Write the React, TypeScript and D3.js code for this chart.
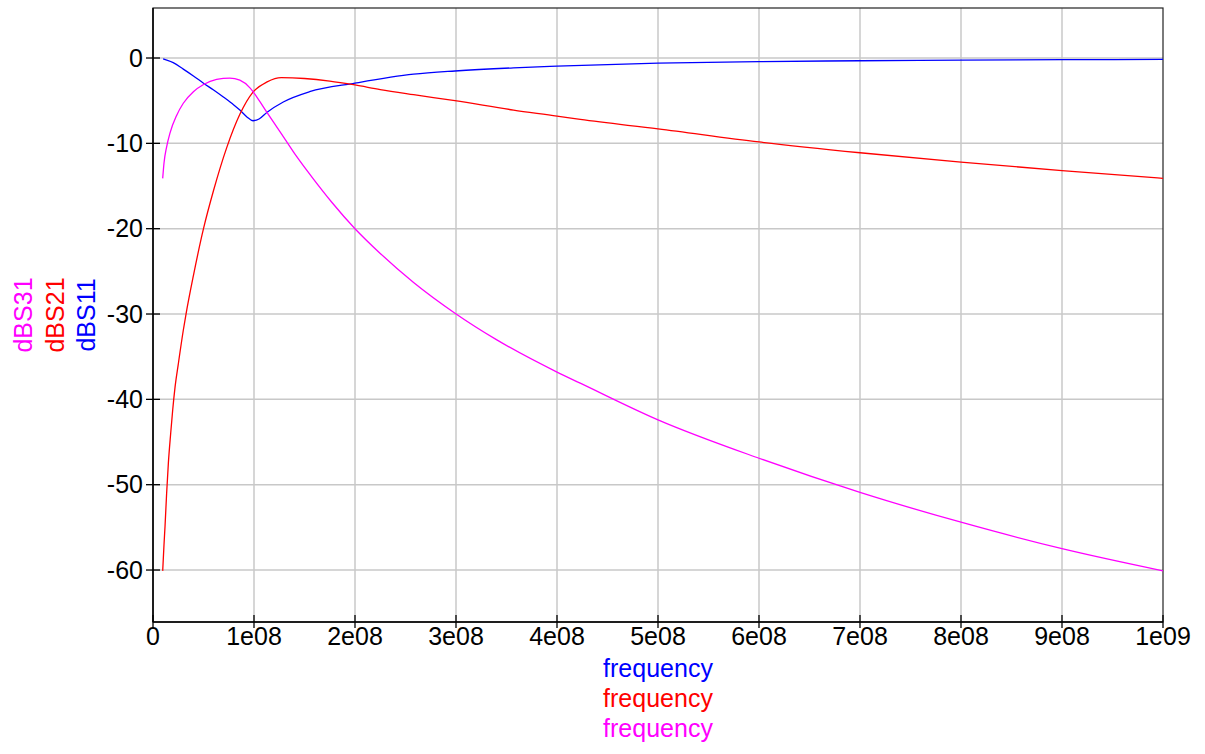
import React from "react";
import * as d3 from "d3";

// Frequency sweep results (frequency in Hz, magnitude in dB)
const s11Freq = [1e7, 2e7, 3e7, 4e7, 5e7, 6e7, 7e7, 8e7, 8.6e7, 9.3e7, 9.9e7, 1.05e8, 1.13e8, 1.29e8, 1.55e8, 2.0e8, 2.58e8, 2.99e8, 3.57e8, 4.0e8, 5e8, 6e8, 7e8, 8e8, 9e8, 1e9];
const s11dB = [-0.1, -0.55, -1.3, -2.1, -2.95, -3.75, -4.6, -5.5, -6.1, -6.9, -7.35, -7.15, -6.35, -5.15, -3.95, -2.95, -1.9, -1.52, -1.15, -0.95, -0.6, -0.42, -0.32, -0.25, -0.2, -0.16];

const s21Freq = [0.96e7, 1.09e7, 1.19e7, 1.35e7, 1.52e7, 1.75e7, 1.95e7, 2.18e7, 2.5e7, 3.0e7, 3.27e7, 4.0e7, 5.0e7, 6.0e7, 7.3e7, 8.6e7, 9.9e7, 1.13e8, 1.27e8, 1.5e8, 1.75e8, 2.0e8, 2.25e8, 2.58e8, 2.99e8, 3.57e8, 4.0e8, 4.23e8, 5e8, 6e8, 7e8, 8e8, 9e8, 1e9];
const s21dB = [-60.1, -57.0, -54.9, -51.0, -47.5, -44.0, -41.25, -38.6, -35.9, -31.9, -30.0, -25.5, -20.0, -15.5, -10.5, -6.6, -4.0, -2.8, -2.3, -2.4, -2.7, -3.16, -3.7, -4.3, -5.0, -6.1, -6.8, -7.2, -8.3, -9.84, -11.1, -12.2, -13.2, -14.1];

const s31Freq = [0.96e7, 1.09e7, 1.35e7, 1.68e7, 2.35e7, 3.0e7, 4.0e7, 5.0e7, 6.3e7, 7.6e7, 8.6e7, 9.6e7, 1.03e8, 1.13e8, 1.29e8, 1.42e8, 1.57e8, 1.77e8, 2.0e8, 2.25e8, 2.58e8, 2.99e8, 3.4e8, 4.0e8, 4.23e8, 5e8, 6e8, 7e8, 8e8, 9e8, 1e9];
const s31dB = [-14.1, -12.3, -10.4, -8.8, -6.7, -5.3, -3.95, -3.1, -2.5, -2.35, -2.6, -3.5, -4.6, -6.4, -9.2, -11.5, -13.9, -16.9, -20.0, -22.9, -26.3, -29.9, -33.0, -36.8, -38.1, -42.4, -46.9, -50.9, -54.4, -57.5, -60.1];

const xTicks = [0, 1e8, 2e8, 3e8, 4e8, 5e8, 6e8, 7e8, 8e8, 9e8, 1e9];
const xTickLabels = ["0", "1e08", "2e08", "3e08", "4e08", "5e08", "6e08", "7e08", "8e08", "9e08", "1e09"];
const yTicks = [0, -10, -20, -30, -40, -50, -60];

const yLabels = [
  { text: "dBS31", color: "#ff00ff" },
  { text: "dBS21", color: "#ff0000" },
  { text: "dBS11", color: "#0000ff" },
];
const xLabels = [
  { text: "frequency", color: "#0000ff" },
  { text: "frequency", color: "#ff0000" },
  { text: "frequency", color: "#ff00ff" },
];

const W = 1205;
const H = 754;
const left = 153;
const right = 1163;
const top = 8;
const bottom = 622;

export default function App() {
  const x = d3.scaleLinear().domain([0, 1e9]).range([left, right]);
  const y = d3.scaleLinear().domain([-66.09, 5.86]).range([bottom, top]);

  const line = (fs: number[], vs: number[]) =>
    d3
      .line<number>()
      .x((_, i) => x(fs[i]))
      .y((v) => y(v))
      .curve(d3.curveMonotoneX)(vs) || "";

  const series = [
    { f: s11Freq, v: s11dB, color: "#0000ff" },
    { f: s21Freq, v: s21dB, color: "#ff0000" },
    { f: s31Freq, v: s31dB, color: "#ff00ff" },
  ];

  const font = "'Liberation Sans', Arial, sans-serif";

  return (
    <svg
      width={W}
      height={H}
      style={{ position: "absolute", left: 0, top: 0, background: "#fff" }}
      fontFamily={font}
    >
      <rect x={0} y={0} width={W} height={H} fill="#fff" />
      {/* grid */}
      {xTicks.slice(1, -1).map((t) => (
        <line key={"gx" + t} x1={x(t)} x2={x(t)} y1={top} y2={bottom} stroke="#c8c8c8" strokeWidth={1.5} />
      ))}
      {yTicks.map((t) => (
        <line key={"gy" + t} x1={left} x2={right} y1={y(t)} y2={y(t)} stroke="#c8c8c8" strokeWidth={1.5} />
      ))}
      {/* frame */}
      <rect x={left} y={top} width={right - left} height={bottom - top} fill="none" stroke="#222" strokeWidth={1.2} />
      <line x1={left} x2={left} y1={top} y2={bottom} stroke="#000" strokeWidth={1.5} />
      <line x1={left} x2={right} y1={bottom} y2={bottom} stroke="#000" strokeWidth={1.5} />
      {/* curves */}
      <defs>
        <clipPath id="plotClip">
          <rect x={left} y={top} width={right - left} height={bottom - top} />
        </clipPath>
      </defs>
      <g clipPath="url(#plotClip)">
        {series.map((s, i) => (
          <path key={i} d={line(s.f, s.v)} fill="none" stroke={s.color} strokeWidth={1.3} />
        ))}
      </g>
      {/* x ticks */}
      {xTicks.map((t, i) => (
        <g key={"xt" + t}>
          <line x1={x(t)} x2={x(t)} y1={bottom - 7} y2={bottom + 6} stroke="#000" strokeWidth={1.3} />
          <text x={x(t)} y={645} textAnchor="middle" fontSize={25} fill="#000">
            {xTickLabels[i]}
          </text>
        </g>
      ))}
      {/* y ticks */}
      {yTicks.map((t) => (
        <g key={"yt" + t}>
          <line x1={left - 7} x2={left + 7} y1={y(t)} y2={y(t)} stroke="#000" strokeWidth={1.3} />
          <text x={143} y={y(t)} dy="0.35em" textAnchor="end" fontSize={25} fill="#000">
            {t}
          </text>
        </g>
      ))}
      {/* axis labels */}
      {yLabels.map((l, i) => (
        <text
          key={"yl" + i}
          transform={`translate(${32 + i * 31.5},${(top + bottom) / 2}) rotate(-90)`}
          textAnchor="middle"
          fontSize={25}
          fill={l.color}
        >
          {l.text}
        </text>
      ))}
      {xLabels.map((l, i) => (
        <text
          key={"xl" + i}
          x={(left + right) / 2}
          y={677 + i * 30}
          textAnchor="middle"
          fontSize={25}
          fill={l.color}
        >
          {l.text}
        </text>
      ))}
    </svg>
  );
}
